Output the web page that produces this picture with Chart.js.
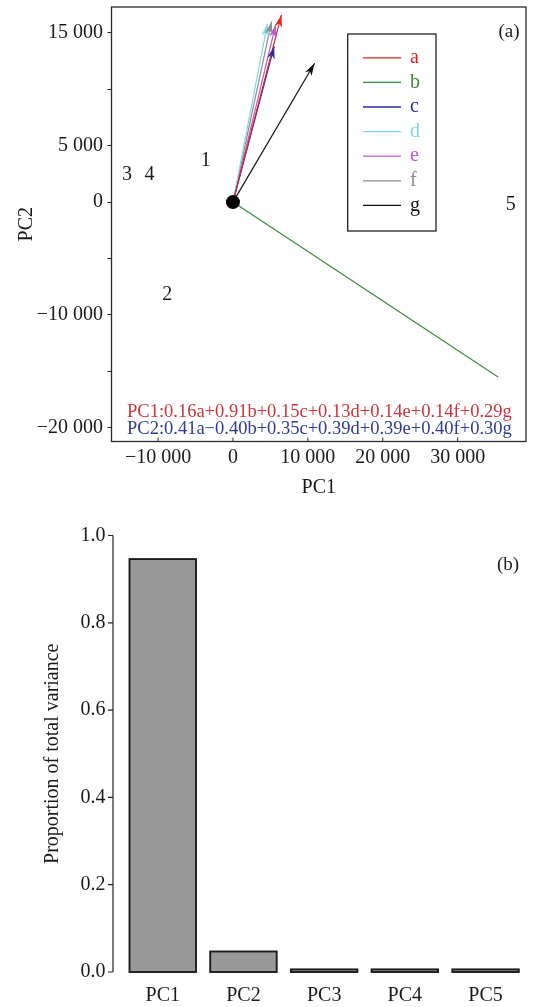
<!DOCTYPE html>
<html><head><meta charset="utf-8"><title>PCA biplot and explained variance</title>
<style>
  body { margin: 0; background: #fff; }
  canvas { display: block; }
</style>
<script src="https://cdn.jsdelivr.net/npm/chart.js"></script>
</head>
<body>
<canvas id="biplot" width="533" height="505"></canvas>
<canvas id="variance" width="533" height="502"></canvas>
<script>
// ---- data (a): sample scores and variable loading arrows ----
const sampleNames = ['1', '2', '3', '4', '5'];
const sampleX = [-3650, -8760, -14150, -11140, 37100];
const sampleY = [3700, -8180, 2380, 2380, -200];

const varNames = ['a', 'b', 'c', 'd', 'e', 'f', 'g'];
const varColors = ['#e8231f', '#3a8c3a', '#2b2b9c', '#80d8e4', '#b55ccc', '#8c8c8c', '#111111'];
const arrowX = [6470, 35400, 5500, 4600, 5700, 5150, 10900];
const arrowY = [16600, -15500, 13800, 15800, 15700, 16000, 12300];
const arrowHead = [true, false, true, true, true, true, true];

const xTickValues = [-10000, 0, 10000, 20000, 30000];
const yTickValues = [-20000, -15000, -10000, -5000, 0, 5000, 10000, 15000];
const yTicksLabelled = [15000, 5000, 0, -10000, -20000];

const eqPC1 = 'PC1:0.16a+0.91b+0.15c+0.13d+0.14e+0.14f+0.29g';
const eqPC2 = 'PC2:0.41a\u22120.40b+0.35c+0.39d+0.39e+0.40f+0.30g';

// ---- data (b): proportion of variance ----
const pcNames = ['PC1', 'PC2', 'PC3', 'PC4', 'PC5'];
const pcVariance = [0.946, 0.047, 0.006, 0.006, 0.006];
const varTickValues = [0, 0.2, 0.4, 0.6, 0.8, 1.0];

const SERIF = "'Liberation Serif', 'Times New Roman', serif";
Chart.defaults.font.family = SERIF;
Chart.defaults.color = '#1a1a1a';
Chart.defaults.animation = false;

function fmt(v) {
    const s = Math.abs(v).toString().replace(/\B(?=(\d{3})+(?!\d))/g, ' ');
    return (v < 0 ? '\u2212' : '') + s;
}

// arrows, labels, frame, legend, equations
const biplotDecor = {
    id: 'biplotDecor',
    afterDatasetsDraw(chart) {
        const ctx = chart.ctx;
        const a = chart.chartArea;
        ctx.save();
        chart.data.datasets.forEach((ds, i) => {
            const meta = chart.getDatasetMeta(i);
            if (ds.arrowHead) {
                const p0 = meta.data[0], p1 = meta.data[1];
                const ang = Math.atan2(p1.y - p0.y, p1.x - p0.x);
                const c = Math.cos(ang), s = Math.sin(ang);
                const L = 12.5, W = 3.8;
                ctx.fillStyle = ds.borderColor;
                ctx.beginPath();
                ctx.moveTo(p1.x, p1.y);
                ctx.lineTo(p1.x - L * c + W * s, p1.y - L * s - W * c);
                ctx.lineTo(p1.x - 9 * c, p1.y - 9 * s);
                ctx.lineTo(p1.x - L * c - W * s, p1.y - L * s + W * c);
                ctx.closePath();
                ctx.fill();
            }
            if (ds.sampleLabels) {
                ctx.fillStyle = '#1a1a1a';
                ctx.font = '20px ' + SERIF;
                ctx.textAlign = 'center';
                ctx.textBaseline = 'middle';
                meta.data.forEach((el, j) => ctx.fillText(sampleNames[j], el.x, el.y));
            }
        });

        // frame
        ctx.strokeStyle = '#2a2a2a';
        ctx.lineWidth = 1.3;
        ctx.strokeRect(a.left, a.top, a.right - a.left, a.bottom - a.top);

        // inward x ticks
        const xs = chart.scales.x;
        ctx.lineWidth = 1;
        xs.ticks.forEach(t => {
            const px = xs.getPixelForValue(t.value);
            ctx.beginPath();
            ctx.moveTo(px, a.bottom);
            ctx.lineTo(px, a.bottom - 4);
            ctx.stroke();
        });

        // legend
        ctx.strokeStyle = '#222';
        ctx.lineWidth = 1.3;
        ctx.strokeRect(347.7, 34, 88.3, 197);
        ctx.font = '20px ' + SERIF;
        ctx.textAlign = 'left';
        ctx.textBaseline = 'middle';
        varNames.forEach((n, i) => {
            const y = 57.8 + i * 24.6;
            ctx.strokeStyle = varColors[i];
            ctx.lineWidth = 1.3;
            ctx.beginPath();
            ctx.moveTo(363, y);
            ctx.lineTo(401, y);
            ctx.stroke();
            ctx.fillStyle = varColors[i];
            ctx.fillText(n, 410, y);
        });

        // equations
        ctx.font = '18.5px ' + SERIF;
        ctx.fillStyle = '#d0343a';
        ctx.fillText(eqPC1, 127, 412.5);
        ctx.fillStyle = '#2e3a96';
        ctx.fillText(eqPC2, 127, 429.5);

        // panel tag
        ctx.fillStyle = '#1a1a1a';
        ctx.font = '19px ' + SERIF;
        ctx.textAlign = 'center';
        ctx.fillText('(a)', 509, 32);
        ctx.restore();
    }
};

const biplotSets = [
    { label: 'origin', data: [{ x: 0, y: 0 }], pointRadius: 7, pointBackgroundColor: '#000', pointBorderWidth: 0 },
    { label: 'samples', data: sampleX.map((x, i) => ({ x: x, y: sampleY[i] })), pointRadius: 0, sampleLabels: true }
];
varNames.forEach((n, i) => {
    biplotSets.push({
        label: n,
        data: [{ x: 0, y: 0 }, { x: arrowX[i], y: arrowY[i] }],
        showLine: true,
        borderColor: varColors[i],
        borderWidth: 1.2,
        pointRadius: 0,
        arrowHead: arrowHead[i]
    });
});

new Chart(document.getElementById('biplot'), {
    type: 'scatter',
    data: { datasets: biplotSets },
    options: {
        responsive: false,
        layout: { padding: { top: 5, right: 2.5, left: 0, bottom: 0 } },
        plugins: { legend: { display: false }, tooltip: { enabled: false } },
        scales: {
            x: {
                min: -16220, max: 39130,
                grid: { display: false, drawTicks: false },
                border: { display: false },
                ticks: { padding: 4, font: { size: 20 }, maxRotation: 0, autoSkip: false, callback: v => fmt(v) },
                afterBuildTicks: s => { s.ticks = xTickValues.map(v => ({ value: v })); },
                title: { display: true, text: 'PC1', font: { size: 20 }, padding: { top: 0, bottom: 5 } },
                afterFit: s => { s.height = 63.5; s.paddingLeft = 0; s.paddingRight = 0; }
            },
            y: {
                min: -21220, max: 17290,
                grid: { display: true, drawOnChartArea: false, drawTicks: true, tickLength: 4, color: '#222', lineWidth: 1 },
                border: { display: false },
                ticks: {
                    padding: 4.5, font: { size: 20 }, autoSkip: false,
                    callback: v => yTicksLabelled.includes(v) ? fmt(v) : ''
                },
                afterBuildTicks: s => { s.ticks = yTickValues.map(v => ({ value: v })); },
                title: { display: true, text: 'PC2', font: { size: 20 }, padding: { top: 15, bottom: 0 } },
                afterFit: s => { s.width = 111.5; s.paddingTop = 0; s.paddingBottom = 0; }
            }
        }
    },
    plugins: [biplotDecor]
});

// bars outlined on their edges, offset y axis line
const varianceDecor = {
    id: 'varianceDecor',
    afterDatasetsDraw(chart) {
        const ctx = chart.ctx;
        const a = chart.chartArea;
        const ys = chart.scales.y;
        ctx.save();
        ctx.strokeStyle = '#1c1c1c';
        ctx.lineWidth = 1.9;
        chart.getDatasetMeta(0).data.forEach(el => {
            const p = el.getProps(['x', 'y', 'base', 'width'], true);
            ctx.strokeRect(p.x - p.width / 2, p.y, p.width, p.base - p.y);
        });
        const axisX = 113;
        ctx.strokeStyle = '#222';
        ctx.lineWidth = 1.2;
        ctx.beginPath();
        ctx.moveTo(axisX, a.top);
        ctx.lineTo(axisX, a.bottom);
        ys.ticks.forEach(t => {
            const py = ys.getPixelForValue(t.value);
            ctx.moveTo(axisX - 5, py);
            ctx.lineTo(axisX, py);
        });
        ctx.stroke();
        ctx.fillStyle = '#1a1a1a';
        ctx.font = '19px ' + SERIF;
        ctx.textAlign = 'center';
        ctx.textBaseline = 'middle';
        ctx.fillText('(b)', 508, 59.6);
        ctx.restore();
    }
};

new Chart(document.getElementById('variance'), {
    type: 'bar',
    data: {
        labels: pcNames,
        datasets: [{
            data: pcVariance,
            backgroundColor: '#999999',
            borderWidth: 0,
            barPercentage: 0.824,
            categoryPercentage: 1
        }]
    },
    options: {
        responsive: false,
        layout: { padding: { top: 30.5, right: 7.1, left: 0, bottom: 0 } },
        plugins: { legend: { display: false }, tooltip: { enabled: false } },
        scales: {
            x: {
                grid: { display: false, drawTicks: false },
                border: { display: false },
                ticks: { font: { size: 20 }, padding: 11.5 },
                afterFit: s => { s.height = 35; }
            },
            y: {
                min: 0, max: 1,
                grid: { display: false, drawTicks: false },
                border: { display: false },
                ticks: { font: { size: 20 }, padding: 17, callback: v => v.toFixed(1) },
                afterBuildTicks: s => { s.ticks = varTickValues.map(v => ({ value: v })); },
                title: { display: true, text: 'Proportion of total variance', font: { size: 20 }, padding: { top: 41, bottom: 0 } },
                afterFit: s => { s.width = 122.4; }
            }
        }
    },
    plugins: [varianceDecor]
});
</script>
</body></html>
